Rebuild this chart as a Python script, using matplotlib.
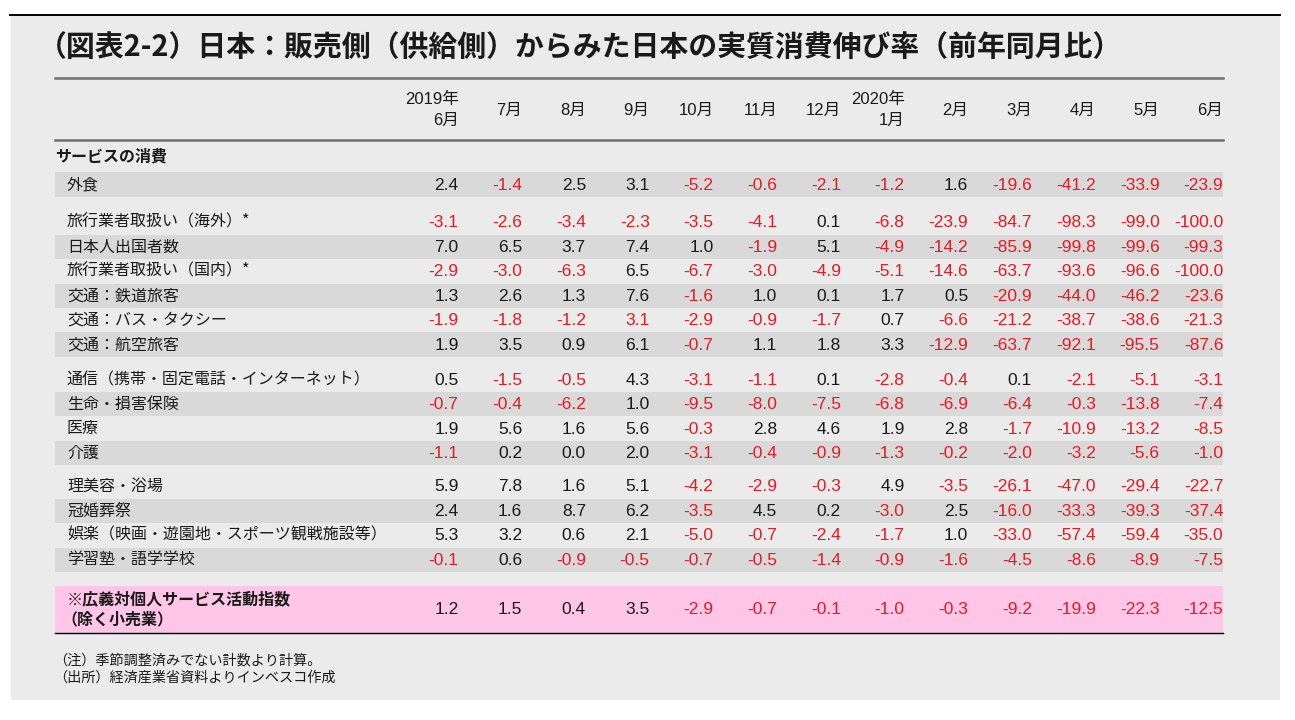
import matplotlib
matplotlib.use("Agg")
import matplotlib.pyplot as plt
from matplotlib.patches import Rectangle

# ---------------- data ----------------
title = "（図表2-2）日本：販売側（供給側）からみた日本の実質消費伸び率（前年同月比）"
section = "サービスの消費"
columns = ["2019年\n6月", "7月", "8月", "9月", "10月", "11月", "12月",
           "2020年\n1月", "2月", "3月", "4月", "5月", "6月"]

row_labels = [
    "外食",
    "旅行業者取扱い（海外）*",
    "日本人出国者数",
    "旅行業者取扱い（国内）*",
    "交通：鉄道旅客",
    "交通：バス・タクシー",
    "交通：航空旅客",
    "通信（携帯・固定電話・インターネット）",
    "生命・損害保険",
    "医療",
    "介護",
    "理美容・浴場",
    "冠婚葬祭",
    "娯楽（映画・遊園地・スポーツ観戦施設等）",
    "学習塾・語学学校",
]
row_groups = [0, 1, 1, 1, 1, 1, 1, 2, 2, 2, 2, 3, 3, 3, 3]

values = [
    [2.4, -1.4, 2.5, 3.1, -5.2, -0.6, -2.1, -1.2, 1.6, -19.6, -41.2, -33.9, -23.9],
    [-3.1, -2.6, -3.4, -2.3, -3.5, -4.1, 0.1, -6.8, -23.9, -84.7, -98.3, -99.0, -100.0],
    [7.0, 6.5, 3.7, 7.4, 1.0, -1.9, 5.1, -4.9, -14.2, -85.9, -99.8, -99.6, -99.3],
    [-2.9, -3.0, -6.3, 6.5, -6.7, -3.0, -4.9, -5.1, -14.6, -63.7, -93.6, -96.6, -100.0],
    [1.3, 2.6, 1.3, 7.6, -1.6, 1.0, 0.1, 1.7, 0.5, -20.9, -44.0, -46.2, -23.6],
    [-1.9, -1.8, -1.2, 3.1, -2.9, -0.9, -1.7, 0.7, -6.6, -21.2, -38.7, -38.6, -21.3],
    [1.9, 3.5, 0.9, 6.1, -0.7, 1.1, 1.8, 3.3, -12.9, -63.7, -92.1, -95.5, -87.6],
    [0.5, -1.5, -0.5, 4.3, -3.1, -1.1, 0.1, -2.8, -0.4, 0.1, -2.1, -5.1, -3.1],
    [-0.7, -0.4, -6.2, 1.0, -9.5, -8.0, -7.5, -6.8, -6.9, -6.4, -0.3, -13.8, -7.4],
    [1.9, 5.6, 1.6, 5.6, -0.3, 2.8, 4.6, 1.9, 2.8, -1.7, -10.9, -13.2, -8.5],
    [-1.1, 0.2, 0.0, 2.0, -3.1, -0.4, -0.9, -1.3, -0.2, -2.0, -3.2, -5.6, -1.0],
    [5.9, 7.8, 1.6, 5.1, -4.2, -2.9, -0.3, 4.9, -3.5, -26.1, -47.0, -29.4, -22.7],
    [2.4, 1.6, 8.7, 6.2, -3.5, 4.5, 0.2, -3.0, 2.5, -16.0, -33.3, -39.3, -37.4],
    [5.3, 3.2, 0.6, 2.1, -5.0, -0.7, -2.4, -1.7, 1.0, -33.0, -57.4, -59.4, -35.0],
    [-0.1, 0.6, -0.9, -0.5, -0.7, -0.5, -1.4, -0.9, -1.6, -4.5, -8.6, -8.9, -7.5],
]
# cells printed in red although positive in the original
red_override = [(5, 3)]

index_label = "※広義対個人サービス活動指数\n（除く小売業）"
index_values = [1.2, 1.5, 0.4, 3.5, -2.9, -0.7, -0.1, -1.0, -0.3, -9.2, -19.9, -22.3, -12.5]

notes = ["（注）季節調整済みでない計数より計算。",
         "（出所）経済産業省資料よりインベスコ作成"]

# ---------------- style / layout ----------------
FAM = ["Liberation Sans", "Noto Sans CJK JP", "DejaVu Sans"]
JFAM = ["Noto Sans CJK JP", "DejaVu Sans"]
plt.rcParams["font.family"] = FAM

PANEL = "#ebebeb"
SHADE = "#d9d9d9"
PINK = "#ffc6e8"
RED = "#e31b23"
BLACK = "#1a1a1a"

W, H = 1295, 720
fig = plt.figure(figsize=(W / 100, H / 100), dpi=100)
fig.patch.set_facecolor("white")
ax = fig.add_axes([0, 0, 1, 1])
ax.set_xlim(0, W)
ax.set_ylim(H, 0)
ax.axis("off")

# panel
ax.add_patch(Rectangle((11, 15), 1269, 685, facecolor=PANEL, edgecolor="none", zorder=0))
ax.plot([10, 1280], [15, 15], color="black", lw=1.4, zorder=2)

left = 55
right = 1223
col_right0 = 458.5
col_step = 63.73
col_x = [col_right0 + col_step * i for i in range(len(columns))]

# title
ax.text(38, 47, title, fontsize=20.8, fontweight="bold", family=JFAM,
        ha="left", va="center", color=BLACK)

# header lines
ax.plot([left, right], [78, 78], color="#707070", lw=1.8, zorder=2)
ax.plot([left, right], [140, 140], color="#707070", lw=1.8, zorder=2)

for x, c in zip(col_x, columns):
    parts = c.split("\n")
    if len(parts) == 2:
        ax.text(x, 99, parts[0], fontsize=12, ha="right", va="center", color=BLACK)
        ax.text(x, 120, parts[1], fontsize=12, ha="right", va="center", color=BLACK)
    else:
        ax.text(x, 110, c, fontsize=12, ha="right", va="center", color=BLACK)

ax.text(left, 157, section, fontsize=11.5, fontweight="bold", family=JFAM,
        ha="left", va="center", color=BLACK)

# rows
pitch = 24.45
row_h = 24.5
group_gaps = [0, 13.5, 24.0, 33.0]
y0 = 184.5
label_x = 67


def fmt(v):
    return f"{v:.1f}"


for i, (lab, g, vals) in enumerate(zip(row_labels, row_groups, values)):
    y = y0 + pitch * i + group_gaps[g]
    if i % 2 == 0:
        ax.add_patch(Rectangle((left, y - row_h / 2), right - left, row_h,
                               facecolor=SHADE, edgecolor="none", zorder=1))
    ax.text(label_x, y, lab, fontsize=11.5, family=JFAM, ha="left", va="center",
            color=BLACK, zorder=3)
    for j, (x, v) in enumerate(zip(col_x, vals)):
        col = RED if (v < 0 or (i, j) in red_override) else BLACK
        ax.text(x, y + 0.5, fmt(v), fontsize=12.5, ha="right", va="center",
                color=col, zorder=3)

# index row (pink)
last_y = y0 + pitch * (len(row_labels) - 1) + group_gaps[row_groups[-1]]
band_top = last_y + row_h / 2 + 13.5
band_h = 47
yc = band_top + band_h / 2
ax.add_patch(Rectangle((left, band_top), right - left, band_h,
                       facecolor=PINK, edgecolor="none", zorder=1))
ax.plot([left, right], [band_top + band_h + 0.5] * 2, color="black", lw=1.0, zorder=2)
l1, l2 = index_label.split("\n")
ax.text(label_x, yc - 9.5, l1, fontsize=11.5, fontweight="bold", family=JFAM,
        ha="left", va="center", color=BLACK, zorder=3)
ax.text(label_x - 6, yc + 10, l2, fontsize=11.5, fontweight="bold", family=JFAM,
        ha="left", va="center", color=BLACK, zorder=3)
for x, v in zip(col_x, index_values):
    col = RED if v < 0 else BLACK
    ax.text(x, yc + 0.5, fmt(v), fontsize=12.5, ha="right", va="center",
            color=col, zorder=3)

# notes
ax.text(left - 2, 660, notes[0], fontsize=10.2, family=JFAM, ha="left", va="center", color=BLACK)
ax.text(left - 2, 678, notes[1], fontsize=10.2, family=JFAM, ha="left", va="center", color=BLACK)

fig.savefig("out.png", dpi=100, facecolor="white")
